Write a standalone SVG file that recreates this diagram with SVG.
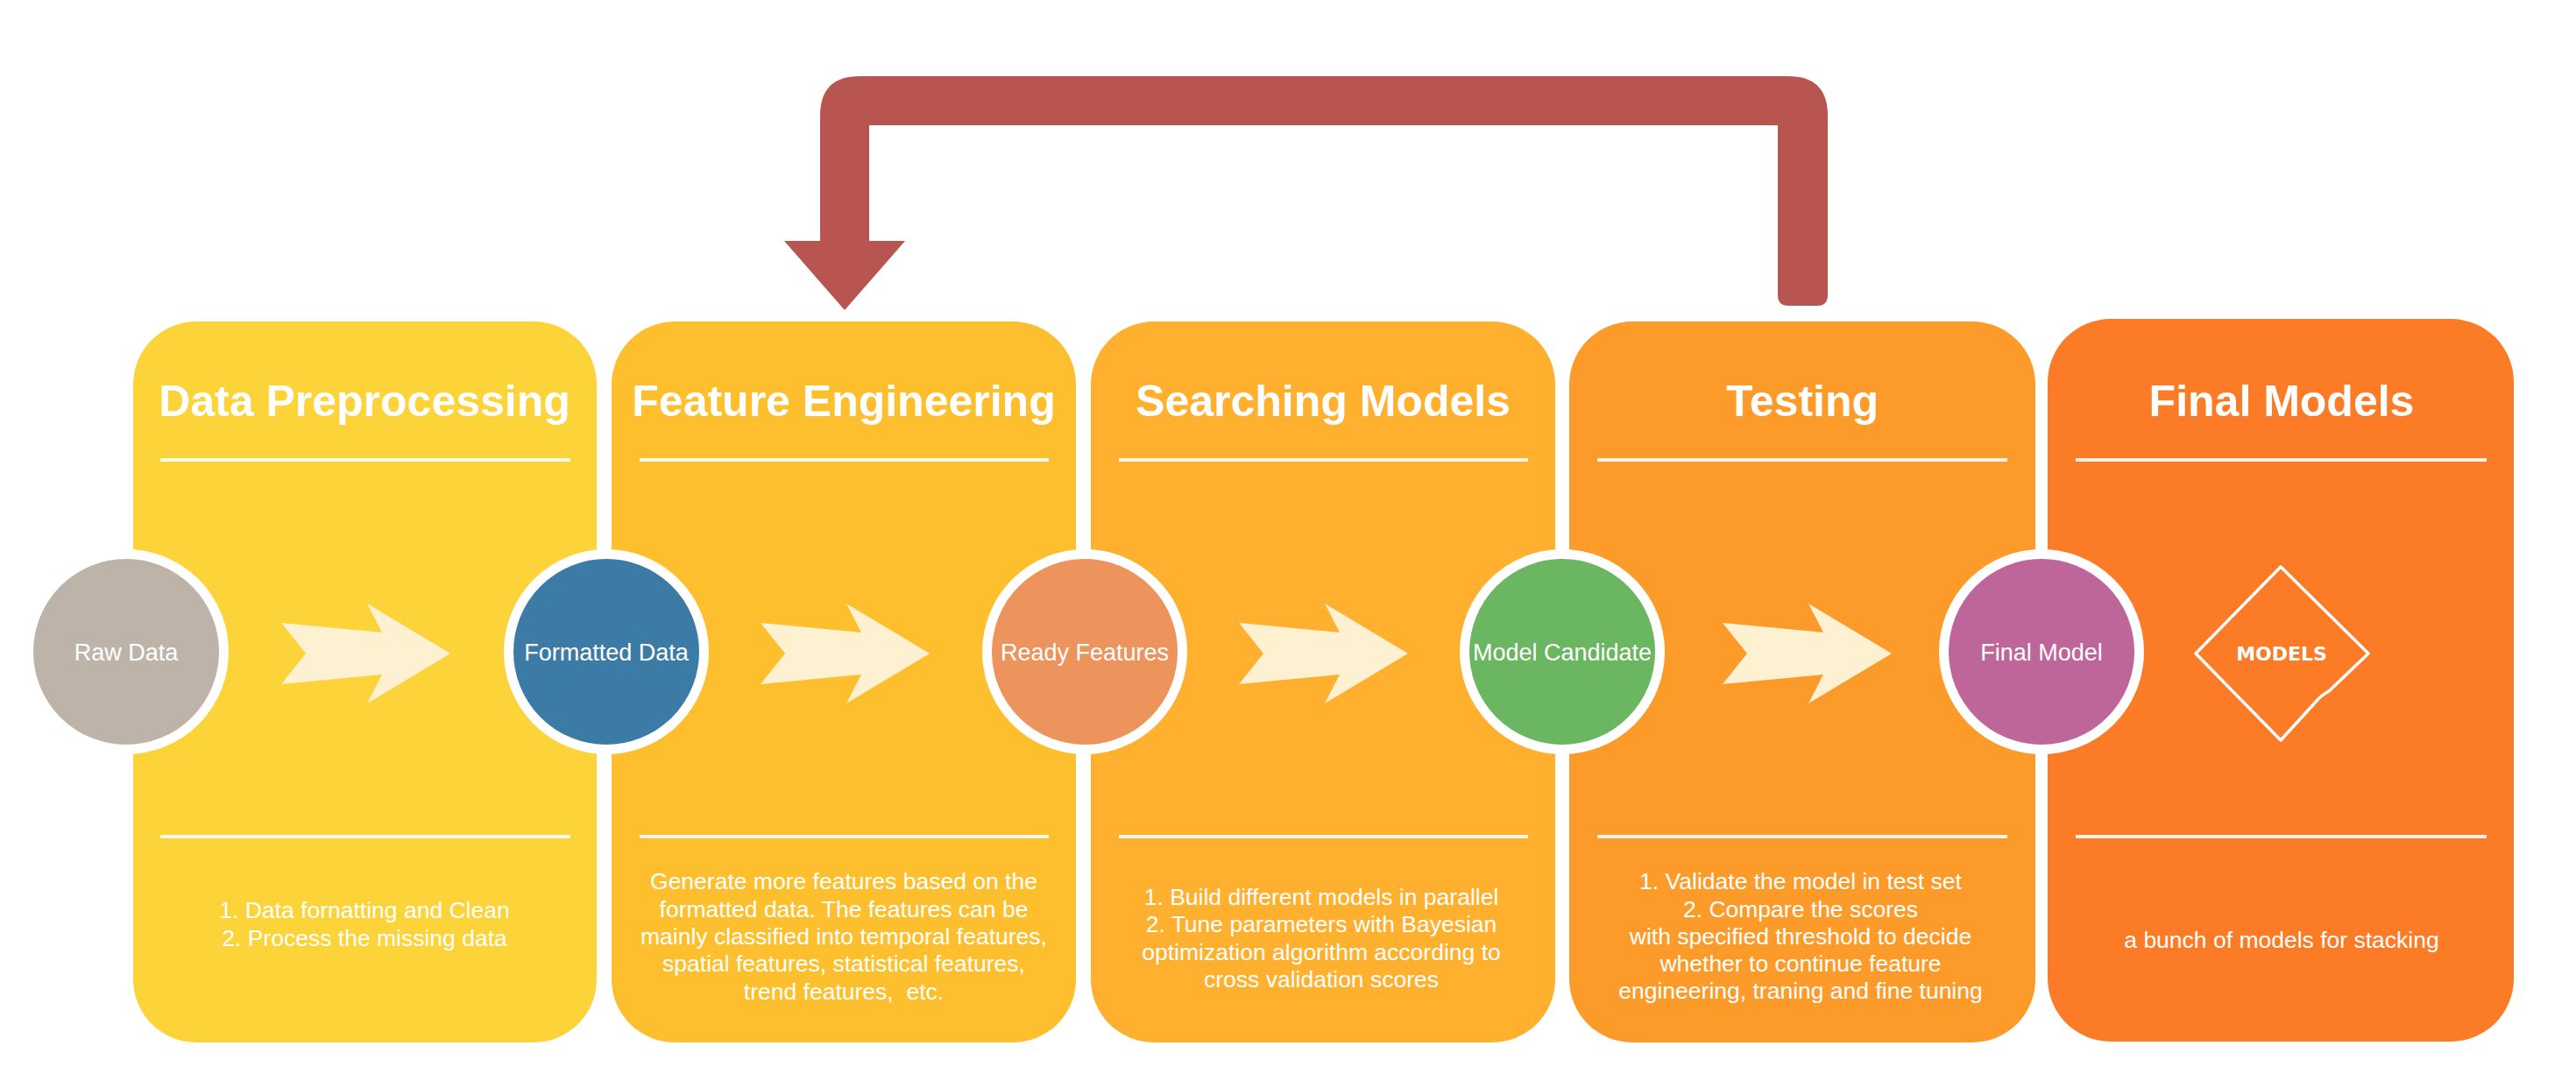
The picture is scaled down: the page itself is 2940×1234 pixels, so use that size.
<svg xmlns="http://www.w3.org/2000/svg" width="2940" height="1234" viewBox="0 0 2940 1234">
  <defs>
    <style>
      .panel { stroke: none; }
      .rule { stroke: #FFFFFF; stroke-opacity: 0.9; stroke-width: 4; }
      .title { font-family: "Liberation Sans", Arial, sans-serif; font-weight: bold; font-size: 50px; fill: #FFFFFF; text-anchor: middle; }
      .body { font-family: "Liberation Sans", Arial, sans-serif; font-size: 26.5px; fill: #FFFFFF; text-anchor: middle; }
      .dot { stroke: #FFFFFF; stroke-width: 11; }
      .dotlabel { font-family: "Liberation Sans", Arial, sans-serif; font-size: 27px; fill: #FFFFFF; text-anchor: middle; }
      .chevron { fill: #FDF1D2; }
      .loop { fill: #B85551; }
      .badge { fill: none; stroke: #FFFFFF; stroke-width: 3.5; stroke-linejoin: round; }
      .badgetext { font-family: "DejaVu Sans", sans-serif; font-weight: bold; font-size: 22px; fill: #FFFFFF; text-anchor: middle; }
    </style>
    <!-- block arrow between stages, centred on (0,0) -->
    <path id="chev" d="M -96,-35 L 19,-24 L 2,-57 L 97,0 L 2,57 L 19,24 L -96,35 L -68,0 Z"/>
  </defs>

  <rect width="2940" height="1234" fill="#FFFFFF"/>

  <!-- stage panels -->
  <g id="stage-preprocessing">
    <rect class="panel" x="152" y="367" width="529" height="823" rx="72" ry="72" fill="#FCD338"/>
    <text class="title" x="416" y="475">Data Preprocessing</text>
    <line class="rule" x1="183" y1="525" x2="651" y2="525"/>
    <line class="rule" x1="183" y1="955" x2="651" y2="955"/>
    <text class="body" x="416" y="1048">1. Data fornatting and Clean</text>
    <text class="body" x="416" y="1080">2. Process the missing data</text>
  </g>

  <g id="stage-feature-engineering">
    <rect class="panel" x="698" y="367" width="530" height="823" rx="72" ry="72" fill="#FDBF2D"/>
    <text class="title" x="963" y="475">Feature Engineering</text>
    <line class="rule" x1="730" y1="525" x2="1197" y2="525"/>
    <line class="rule" x1="730" y1="955" x2="1197" y2="955"/>
    <text class="body" x="963" y="1015">Generate more features based on the</text>
    <text class="body" x="963" y="1047">formatted data. The features can be</text>
    <text class="body" x="963" y="1078">mainly classified into temporal features,</text>
    <text class="body" x="963" y="1109">spatial features, statistical features,</text>
    <text class="body" x="963" y="1141" xml:space="preserve">trend features,  etc.</text>
  </g>

  <g id="stage-searching-models">
    <rect class="panel" x="1245" y="367" width="530" height="823" rx="72" ry="72" fill="#FEB02E"/>
    <text class="title" x="1510" y="475">Searching Models</text>
    <line class="rule" x1="1277" y1="525" x2="1744" y2="525"/>
    <line class="rule" x1="1277" y1="955" x2="1744" y2="955"/>
    <text class="body" x="1508" y="1033">1. Build different models in parallel</text>
    <text class="body" x="1508" y="1064">2. Tune parameters with Bayesian</text>
    <text class="body" x="1508" y="1096">optimization algorithm according to</text>
    <text class="body" x="1508" y="1127">cross validation scores</text>
  </g>

  <g id="stage-testing">
    <rect class="panel" x="1791" y="367" width="532" height="823" rx="72" ry="72" fill="#FC9B2A"/>
    <text class="title" x="2057" y="475">Testing</text>
    <line class="rule" x1="1823" y1="525" x2="2291" y2="525"/>
    <line class="rule" x1="1823" y1="955" x2="2291" y2="955"/>
    <text class="body" x="2055" y="1015">1. Validate the model in test set</text>
    <text class="body" x="2055" y="1047">2. Compare the scores</text>
    <text class="body" x="2055" y="1078">with specified threshold to decide</text>
    <text class="body" x="2055" y="1109">whether to continue feature</text>
    <text class="body" x="2055" y="1140">engineering, traning and fine tuning</text>
  </g>

  <g id="stage-final-models">
    <rect class="panel" x="2337" y="364" width="532" height="825" rx="72" ry="72" fill="#FC7B27"/>
    <text class="title" x="2604" y="475">Final Models</text>
    <line class="rule" x1="2369" y1="525" x2="2838" y2="525"/>
    <line class="rule" x1="2369" y1="955" x2="2838" y2="955"/>
    <text class="body" x="2604" y="1082">a bunch of models for stacking</text>
  </g>

  <!-- connectors: stage arrows and the feedback loop -->
  <g id="connectors">
    <use href="#chev" class="chevron" x="417" y="746"/>
    <use href="#chev" class="chevron" x="964" y="746"/>
    <use href="#chev" class="chevron" x="1510" y="746"/>
    <use href="#chev" class="chevron" x="2062" y="746"/>
    <path class="loop" d="M 936,275 L 936,132 Q 936,87 981,87 L 2041,87 Q 2086,87 2086,132 L 2086,337 Q 2086,349 2074,349 L 2041,349 Q 2029,349 2029,337 L 2029,143 L 992,143 L 992,275 L 1033,275 L 964,354 L 895,275 Z"/>
  </g>

  <!-- data artefacts -->
  <g id="node-raw-data">
    <circle class="dot" cx="144" cy="744" r="111.5" fill="#BDB3A8"/>
    <text class="dotlabel" x="144" y="754">Raw Data</text>
  </g>
  <g id="node-formatted-data">
    <circle class="dot" cx="692" cy="744" r="111.5" fill="#3D7BA7"/>
    <text class="dotlabel" x="692" y="754">Formatted Data</text>
  </g>
  <g id="node-ready-features">
    <circle class="dot" cx="1238" cy="744" r="111.5" fill="#ED945D"/>
    <text class="dotlabel" x="1238" y="754">Ready Features</text>
  </g>
  <g id="node-model-candidate">
    <circle class="dot" cx="1783" cy="744" r="111.5" fill="#6BB661"/>
    <text class="dotlabel" x="1783" y="754">Model Candidate</text>
  </g>
  <g id="node-final-model">
    <circle class="dot" cx="2330" cy="744" r="111.5" fill="#BE6699"/>
    <text class="dotlabel" x="2330" y="754">Final Model</text>
  </g>

  <!-- hand-drawn badge -->
  <g id="node-models">
    <path class="badge" d="M 2603,647 L 2703,746 L 2658,789 Q 2649,794 2645,799 L 2603,845 L 2506,746 Z"/>
    <text class="badgetext" x="2604" y="754">MODELS</text>
  </g>
</svg>
